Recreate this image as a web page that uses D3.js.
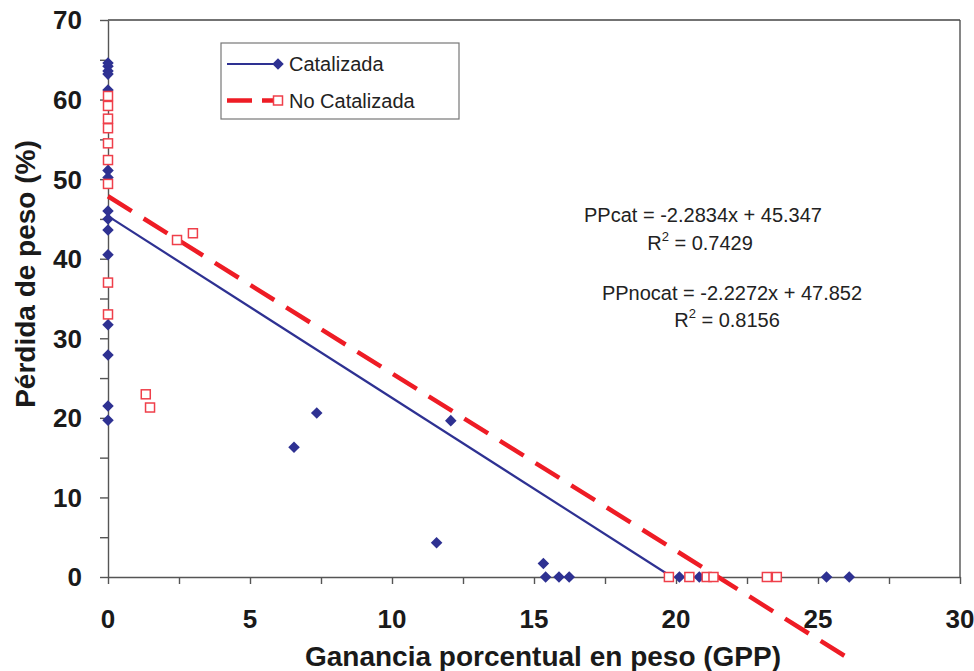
<!DOCTYPE html>
<html>
<head>
<meta charset="utf-8">
<script src="https://cdn.jsdelivr.net/npm/d3@7"></script>
<style>
body { margin: 0; background: #fff; }
text { font-family: "Liberation Sans", Arial, sans-serif; }
</style>
</head>
<body>
<svg id="chart"></svg>
<script>
// Catalizada (blue diamonds)
var catX = [0, 0, 0, 0, 0, 0, 0, 0, 0, 0, 0, 0, 0, 0, 0,
    6.55, 7.35, 11.57, 12.07, 15.33, 15.41, 15.88, 16.24, 20.12, 20.82, 25.3, 26.1]
var catY = [64.6, 64.2, 63.6, 63.2, 61.2, 51.1, 50.2, 46.0, 45.0, 43.6, 40.5, 31.7, 27.9, 21.5, 19.7,
    16.3, 20.6, 4.3, 19.65, 1.7, 0, 0, 0, 0, 0, 0, 0]

// No Catalizada (red squares)
var nocatX = [0, 0, 0, 0, 0, 0, 0, 0, 0,
    1.33, 1.48, 2.43, 2.99, 19.75, 20.47, 21.08, 21.32, 23.2, 23.55]
var nocatY = [60.45, 59.2, 57.6, 56.4, 54.5, 52.4, 49.4, 37.0, 33.0,
    22.96, 21.3, 42.35, 43.2, 0, 0, 0, 0, 0, 0]

// trendlines
var seriesNames = ['Catalizada', 'No Catalizada']
var trendSlope = [-2.2834, -2.2272]
var trendIntercept = [45.347, 47.852]
var trendEnd = [19.86, 26.13]
var eqText = ['PPcat = -2.2834x + 45.347', '0.7429', 'PPnocat = -2.2272x + 47.852', '0.8156']

var xTicks = d3.range(0, 30.01, 2.5)
var xLabels = [0, 5, 10, 15, 20, 25, 30]
var yTicks = d3.range(0, 70.01, 5)
var yLabels = [0, 10, 20, 30, 40, 50, 60, 70]

var blue = '#2e3192', red = '#ee1c25', redMark = '#ef3f4a'

var W = 974, H = 671
var margin = { top: 20, right: 14, bottom: 94, left: 108 },
    width = W - margin.left - margin.right,
    height = H - margin.top - margin.bottom

var svg = d3.select('#chart').attr('width', W).attr('height', H)
var g = svg.append('g').attr('transform', 'translate(' + margin.left + ',' + margin.top + ')')

var x = d3.scaleLinear().domain([0, 30]).range([0, width])
var y = d3.scaleLinear().domain([0, 70]).range([height, 0])

// frame top / right
g.append('line').attr('x1', 0).attr('x2', width).attr('y1', 0).attr('y2', 0)
    .attr('stroke', '#444').attr('stroke-width', 1.3)
g.append('line').attr('x1', width).attr('x2', width).attr('y1', 0).attr('y2', height)
    .attr('stroke', '#444').attr('stroke-width', 1.3)

// axes
var xAxis = g.append('g').attr('transform', 'translate(0,' + height + ')')
    .call(d3.axisBottom(x).tickValues(xTicks).tickSize(7).tickSizeOuter(0).tickFormat(''))
var yAxis = g.append('g')
    .call(d3.axisLeft(y).tickValues(yTicks).tickSize(8).tickSizeOuter(0).tickFormat(''))
g.selectAll('.domain, .tick line').attr('stroke', '#555').attr('stroke-width', 1.4)

g.selectAll('.xlab').data(xLabels).enter().append('text')
    .attr('x', d => x(d)).attr('y', height + 51)
    .attr('text-anchor', 'middle').attr('font-size', 26).attr('font-weight', 'bold').attr('fill', '#1a1a1a')
    .text(d => d)
g.selectAll('.ylab').data(yLabels).enter().append('text')
    .attr('x', -26).attr('y', d => y(d)).attr('dy', '0.36em')
    .attr('text-anchor', 'end').attr('font-size', 26).attr('font-weight', 'bold').attr('fill', '#1a1a1a')
    .text(d => d)

// axis titles
svg.append('text').attr('x', 543).attr('y', 666)
    .attr('text-anchor', 'middle').attr('font-size', 28).attr('font-weight', 'bold').attr('fill', '#1a1a1a')
    .text('Ganancia porcentual en peso (GPP)')
svg.append('text').attr('transform', 'translate(35,274) rotate(-90)')
    .attr('text-anchor', 'middle').attr('font-size', 28).attr('font-weight', 'bold').attr('fill', '#1a1a1a')
    .text('Pérdida de peso (%)')

// trendlines
var line = d3.line().x(d => x(d[0])).y(d => y(d[1]))
var lineStyle = [{ c: blue, w: 2.2, dash: null }, { c: red, w: 4.5, dash: '28,14' }]
for (let i = 0; i < 2; i++) {
    var pts = [[0, trendIntercept[i]], [trendEnd[i], trendIntercept[i] + trendSlope[i] * trendEnd[i]]]
    g.append('path').datum(pts).attr('d', line)
        .attr('fill', 'none').attr('stroke', lineStyle[i].c).attr('stroke-width', lineStyle[i].w)
        .attr('stroke-dasharray', lineStyle[i].dash)
}

// markers
var diamond = d3.symbol().type(d3.symbolDiamond2).size(85)
g.selectAll('.cat').data(catX.map((v, i) => [v, catY[i]])).enter().append('path')
    .attr('d', diamond)
    .attr('transform', d => 'translate(' + x(d[0]) + ',' + y(d[1]) + ')')
    .attr('fill', blue)
g.selectAll('.nocat').data(nocatX.map((v, i) => [v, nocatY[i]])).enter().append('rect')
    .attr('x', d => x(d[0]) - 4.5).attr('y', d => y(d[1]) - 4.5)
    .attr('width', 9).attr('height', 9)
    .attr('fill', '#fff').attr('stroke', redMark).attr('stroke-width', 1.5)

// legend
var leg = svg.append('g').attr('transform', 'translate(221,43)')
leg.append('rect').attr('width', 238).attr('height', 76)
    .attr('fill', '#fff').attr('stroke', '#777').attr('stroke-width', 1.2)
leg.append('line').attr('x1', 6).attr('x2', 57).attr('y1', 21).attr('y2', 21)
    .attr('stroke', blue).attr('stroke-width', 2.2)
leg.append('path').attr('d', diamond).attr('transform', 'translate(57,21)').attr('fill', blue)
leg.append('line').attr('x1', 6).attr('x2', 54).attr('y1', 57.5).attr('y2', 57.5)
    .attr('stroke', red).attr('stroke-width', 4.5).attr('stroke-dasharray', '25,10')
leg.append('rect').attr('x', 52.5).attr('y', 53).attr('width', 9).attr('height', 9)
    .attr('fill', '#fff').attr('stroke', redMark).attr('stroke-width', 1.5)
leg.selectAll('.lt').data(seriesNames).enter().append('text')
    .attr('x', 68).attr('y', (d, i) => i ? 64.5 : 28)
    .attr('font-size', 20).attr('fill', '#222')
    .text(d => d)

// equations
var eqPos = [[703, 222], [700, 250], [732, 300], [727, 327]]
eqText.forEach((t, i) => {
    var tx = svg.append('text').attr('x', eqPos[i][0]).attr('y', eqPos[i][1])
        .attr('text-anchor', 'middle').attr('font-size', 20).attr('fill', '#222')
    if (i % 2 == 0) {
        tx.text(t)
    } else {
        tx.append('tspan').text('R')
        tx.append('tspan').attr('font-size', 13).attr('dy', -9).text('2')
        tx.append('tspan').attr('dy', 9).text(' = ' + t)
    }
})
</script>
</body>
</html>
